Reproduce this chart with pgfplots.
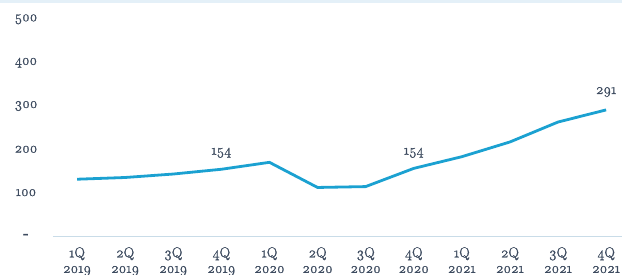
\documentclass[border=0pt]{standalone}
\usepackage{fontspec}
\setmainfont{Latin Modern Roman}[Numbers=OldStyle, FakeBold=1.6]
\usepackage{pgfplots}
\pgfplotsset{compat=1.18}
\definecolor{linec}{HTML}{1BA1D1}
\definecolor{txt}{HTML}{3D4B5F}
\definecolor{axc}{HTML}{C9DCE8}
\definecolor{band}{HTML}{E4F0F8}
\begin{document}
\begin{tikzpicture}
\useasboundingbox (0,0) rectangle (622pt,275pt);
\fill[band] (0,272pt) rectangle (622pt,275pt);
\begin{axis}[
  at={(53pt,39pt)}, anchor=south west,
  scale only axis, width=569pt, height=234pt,
  xmin=-0.5, xmax=11.33, ymin=0, ymax=540,
  axis y line*=left, axis x line*=bottom,
  y axis line style={draw=none},
  x axis line style={draw=axc, line width=0.9pt, -},
  xtick={0,...,11}, major tick length=0pt,
  xticklabels={{1Q\\2019},{2Q\\2019},{3Q\\2019},{4Q\\2019},{1Q\\2020},{2Q\\2020},{3Q\\2020},{4Q\\2020},{1Q\\2021},{2Q\\2021},{3Q\\2021},{4Q\\2021}},
  xticklabel style={align=center, font=\fontsize{14.5}{15.5}\selectfont, text=txt, inner sep=0pt, yshift=-11pt},
  ytick={0,100,200,300,400,500},
  yticklabels={\textbf{-},100,200,300,400,500},
  yticklabel style={anchor=center, xshift=-27pt, font=\fontsize{14.5}{15}\selectfont, text=txt},
  clip=false,
]
\addplot[linec, line width=2.8pt, line join=round] coordinates {
(0,131) (1,135) (2,143) (3,154) (4,170) (5,112) (6,114) (7,156) (8,183) (9,217) (10,263) (11,291)};
\node[text=txt, font=\fontsize{14.5}{15}\selectfont] at (axis cs:3,192) {154};
\node[text=txt, font=\fontsize{14.5}{15}\selectfont] at (axis cs:7,192) {154};
\node[text=txt, font=\fontsize{14.5}{15}\selectfont] at (axis cs:11,332) {291};
\end{axis}
\end{tikzpicture}
\end{document}
